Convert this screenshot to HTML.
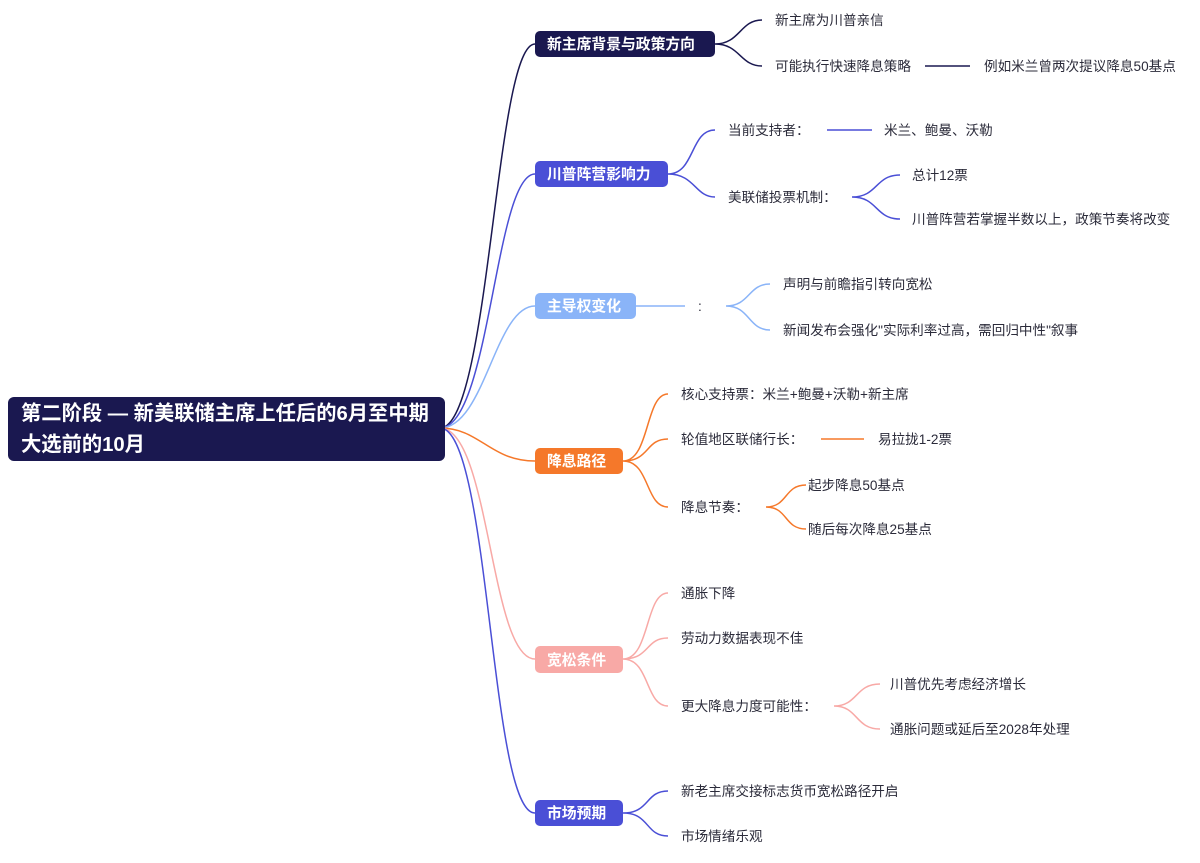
<!DOCTYPE html>
<html><head><meta charset="utf-8"><style>
html,body{margin:0;padding:0;background:#fff;}
svg text{font-family:"Liberation Sans","Noto Sans CJK SC",sans-serif;}
.l{font-size:13.6px;fill:#2b2b3a;}
.b{font-size:14.8px;font-weight:bold;fill:#fff;}
</style></head><body>
<svg width="1200" height="858" viewBox="0 0 1200 858" xmlns="http://www.w3.org/2000/svg" fill="none" stroke-width="1.5">
<path d="M440,428 C490,428 495,44 535,44" stroke="#1a1850"/>
<path d="M440,428 C490,428 495,174 535,174" stroke="#4a4fd6"/>
<path d="M440,428 C485,428 495,306 535,306" stroke="#8ab4f8"/>
<path d="M440,428 C480,428 490,461 535,461" stroke="#f5782a"/>
<path d="M440,428 C490,428 490,659 535,659" stroke="#f8a9a6"/>
<path d="M440,428 C490,428 490,813 535,813" stroke="#4a4fd6"/>
<rect x="8" y="397" width="437" height="64" rx="6" fill="#1a1850"/>
<text x="21" y="420" style="font-size:20.3px;font-weight:bold;fill:#fff">第二阶段 — 新美联储主席上任后的6月至中期</text>
<text x="21" y="451" style="font-size:20.3px;font-weight:bold;fill:#fff">大选前的10月</text>
<path d="M715,44 C740,44 740,20 762,20 M715,44 C740,44 740,66 762,66" stroke="#1a1850"/>
<path d="M925,66 H970" stroke="#1a1850"/>
<rect x="535" y="31" width="180" height="26" rx="5" fill="#1a1850"/>
<text class="b" x="547" y="49">新主席背景与政策方向</text>
<text class="l" x="775" y="25">新主席为川普亲信</text>
<text class="l" x="775" y="71">可能执行快速降息策略</text>
<text class="l" x="984" y="71">例如米兰曾两次提议降息50基点</text>
<path d="M668,174 C695,174 690,130 715,130 M668,174 C695,174 695,197 715,197" stroke="#4a4fd6"/>
<path d="M827,130 H872" stroke="#4a4fd6"/>
<path d="M852,197 C878,197 875,175 900,175 M852,197 C878,197 875,219 900,219" stroke="#4a4fd6"/>
<rect x="535" y="161" width="133" height="26" rx="5" fill="#4a4fd6"/>
<text class="b" x="547" y="179">川普阵营影响力</text>
<text class="l" x="728" y="135">当前支持者：</text>
<text class="l" x="884" y="135">米兰、鲍曼、沃勒</text>
<text class="l" x="728" y="202">美联储投票机制：</text>
<text class="l" x="912" y="180">总计12票</text>
<text class="l" x="912" y="224">川普阵营若掌握半数以上，政策节奏将改变</text>
<path d="M636,306 H685" stroke="#8ab4f8"/>
<path d="M726,306 C750,306 748,284 770,284 M726,306 C750,306 748,330 770,330" stroke="#8ab4f8"/>
<rect x="535" y="293" width="101" height="26" rx="5" fill="#8ab4f8"/>
<text class="b" x="547" y="311">主导权变化</text>
<text class="l" x="698" y="311">:</text>
<text class="l" x="783" y="289">声明与前瞻指引转向宽松</text>
<text class="l" x="783" y="335">新闻发布会强化"实际利率过高，需回归中性"叙事</text>
<path d="M623,461 C650,461 645,394 668,394 M623,461 C650,461 645,439 668,439 M623,461 C650,461 645,507 668,507" stroke="#f5782a"/>
<path d="M821,439 H864" stroke="#f5782a"/>
<path d="M766,507 C788,507 784,485 806,485 M766,507 C788,507 784,529 806,529" stroke="#f5782a"/>
<rect x="535" y="448" width="88" height="26" rx="5" fill="#f5782a"/>
<text class="b" x="547" y="466">降息路径</text>
<text class="l" x="681" y="399">核心支持票：米兰+鲍曼+沃勒+新主席</text>
<text class="l" x="681" y="444">轮值地区联储行长：</text>
<text class="l" x="878" y="444">易拉拢1-2票</text>
<text class="l" x="681" y="512">降息节奏：</text>
<text class="l" x="808" y="490">起步降息50基点</text>
<text class="l" x="808" y="534">随后每次降息25基点</text>
<path d="M623,659 C650,659 645,593 668,593 M623,659 C650,659 645,638 668,638 M623,659 C650,659 645,706 668,706" stroke="#f8a9a6"/>
<path d="M834,706 C858,706 855,684 880,684 M834,706 C858,706 855,729 880,729" stroke="#f8a9a6"/>
<rect x="535" y="646" width="88" height="27" rx="5" fill="#f8a9a6"/>
<text class="b" x="547" y="665">宽松条件</text>
<text class="l" x="681" y="598">通胀下降</text>
<text class="l" x="681" y="643">劳动力数据表现不佳</text>
<text class="l" x="681" y="711">更大降息力度可能性：</text>
<text class="l" x="890" y="689">川普优先考虑经济增长</text>
<text class="l" x="890" y="734">通胀问题或延后至2028年处理</text>
<path d="M623,813 C650,813 645,791 668,791 M623,813 C650,813 645,836 668,836" stroke="#4a4fd6"/>
<rect x="535" y="800" width="88" height="26" rx="5" fill="#4a4fd6"/>
<text class="b" x="547" y="818">市场预期</text>
<text class="l" x="681" y="796">新老主席交接标志货币宽松路径开启</text>
<text class="l" x="681" y="841">市场情绪乐观</text>
</svg>
</body></html>
